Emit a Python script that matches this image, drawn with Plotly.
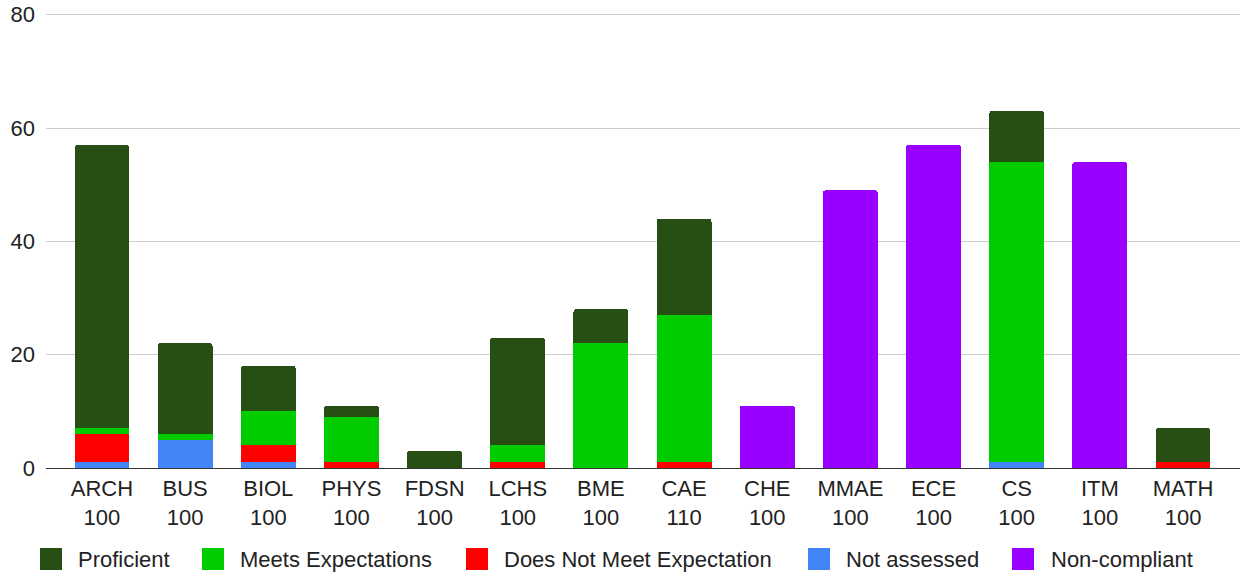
import plotly.graph_objects as go

# Departments and their course numbers (shown as two-line tick labels)
departments = ["ARCH", "BUS", "BIOL", "PHYS", "FDSN", "LCHS", "BME",
               "CAE", "CHE", "MMAE", "ECE", "CS", "ITM", "MATH"]
course_numbers = ["100", "100", "100", "100", "100", "100", "100",
                  "110", "100", "100", "100", "100", "100", "100"]

# Counts per outcome category (stacked bottom-to-top: blue, red, light green, dark green, purple)
not_assessed = [1, 5, 1, 0, 0, 0, 0, 0, 0, 0, 0, 1, 0, 0]
does_not_meet = [5, 0, 3, 1, 0, 1, 0, 1, 0, 0, 0, 0, 0, 1]
meets = [1, 1, 6, 8, 0, 3, 22, 26, 0, 0, 0, 53, 0, 0]
proficient = [50, 16, 8, 2, 3, 19, 6, 17, 0, 0, 0, 9, 0, 6]
non_compliant = [0, 0, 0, 0, 0, 0, 0, 0, 11, 49, 57, 0, 54, 0]

x_idx = list(range(len(departments)))
tick_text = [f"{d}<br>{n}" for d, n in zip(departments, course_numbers)]

font_family = "Liberation Sans, Arial, sans-serif"
text_color = "#222222"
FS = 22

W, H = 1242, 575
M_L, M_R, M_T, M_B = 46, 2, 9, 107

# (name, values, colour) in stacking order
series = [
    ("Not assessed", not_assessed, "#4285f4"),
    ("Does Not Meet Expectation", does_not_meet, "#ff0000"),
    ("Meets Expectations", meets, "#00cc00"),
    ("Proficient", proficient, "#274e13"),
    ("Non-compliant", non_compliant, "#9900ff"),
]

fig = go.Figure()
for name, vals, color in series:
    fig.add_trace(go.Bar(
        x=x_idx, y=vals, name=name,
        marker=dict(color=color, line=dict(width=0)),
        width=0.66, showlegend=False,
        hovertemplate="%{y}<extra>" + name + "</extra>",
    ))

# Legend row drawn below the plot: (label, colour, swatch left edge in px, text left edge in px)
legend_items = [
    ("Proficient", "#274e13", 40, 78),
    ("Meets Expectations", "#00cc00", 202, 240),
    ("Does Not Meet Expectation", "#ff0000", 466, 504),
    ("Not assessed", "#4285f4", 808, 846),
    ("Non-compliant", "#9900ff", 1012, 1051),
]
plot_w = W - M_L - M_R
plot_h = H - M_T - M_B


def px_x(px):
    return (px - M_L) / plot_w


def px_y(py):
    return (H - M_B - py) / plot_h


legend_cy = 559
sw_w, sw_h = 22, 22
shapes = []
annotations = []
for label, color, sx, tx in legend_items:
    shapes.append(dict(
        type="rect", xref="paper", yref="paper",
        x0=px_x(sx), x1=px_x(sx + sw_w),
        y0=px_y(legend_cy + sw_h / 2), y1=px_y(legend_cy - sw_h / 2),
        fillcolor=color, line=dict(width=0), layer="above",
    ))
    annotations.append(dict(
        xref="paper", yref="paper", x=px_x(tx - 2), y=px_y(legend_cy),
        text=label, showarrow=False, xanchor="left", yanchor="middle",
        font=dict(family=font_family, size=FS, color=text_color),
    ))

fig.update_layout(
    barmode="stack",
    barcornerradius=3,
    width=W, height=H,
    margin=dict(l=M_L, r=M_R, t=M_T, b=M_B, autoexpand=False),
    paper_bgcolor="white", plot_bgcolor="white",
    font=dict(family=font_family, size=FS, color=text_color),
    xaxis=dict(
        range=[-0.673, 13.685],
        tickmode="array", tickvals=x_idx, ticktext=tick_text,
        showgrid=False, zeroline=False, showline=False,
        ticks="", ticklabelstandoff=5,
        tickfont=dict(size=FS, color=text_color),
        automargin=False,
    ),
    yaxis=dict(
        range=[0, 81], tickvals=[0, 20, 40, 60, 80],
        showgrid=True, gridcolor="#cccccc", gridwidth=1,
        zeroline=True, zerolinecolor="#333333", zerolinewidth=1,
        ticks="", ticklabelstandoff=10,
        tickfont=dict(size=FS, color=text_color),
        automargin=False,
    ),
    shapes=shapes,
    annotations=annotations,
    showlegend=False,
)

fig.write_html("out.html")
